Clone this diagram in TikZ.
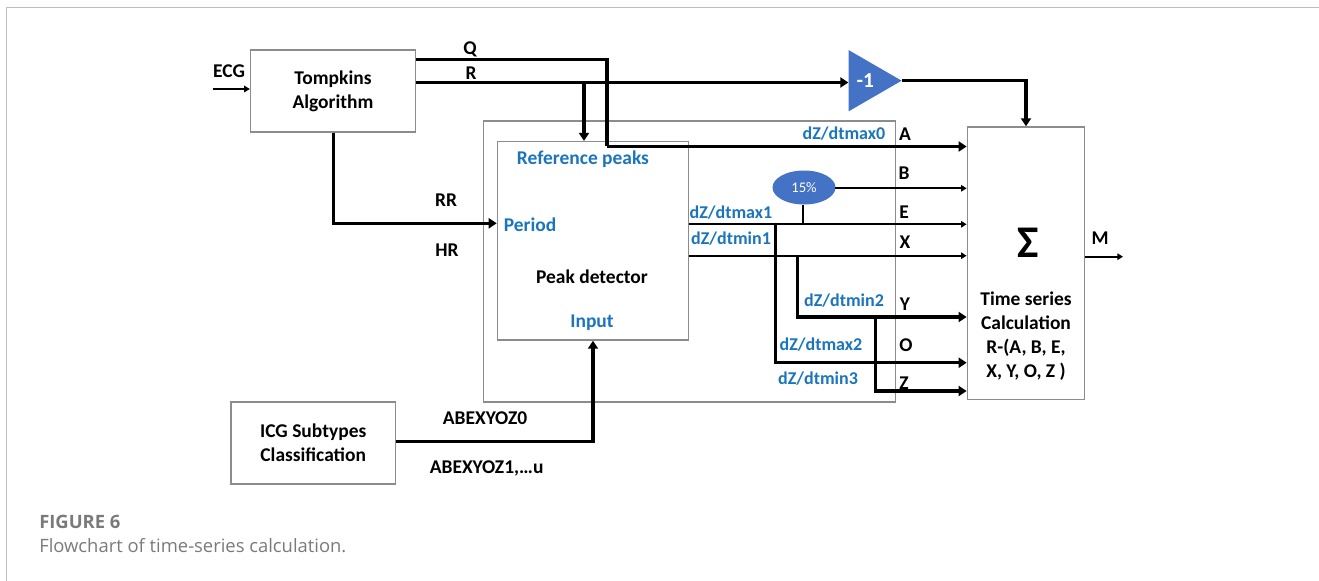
\documentclass[tikz,border=0pt]{standalone}
\usepackage{fontspec}
\setmainfont{Carlito}
\newfontfamily\capfont{Open Sans}
\usetikzlibrary{arrows.meta,shapes.geometric}
\definecolor{labelblue}{HTML}{1B75BC}
\definecolor{gainblue}{HTML}{4472C4}
\definecolor{boxgray}{HTML}{8C8C8C}
\definecolor{capgray}{HTML}{7A7A7A}
\def\px{0.75pt}
\tikzset{
  blockbox/.style={draw=boxgray, line width=1pt, minimum width=#1, inner sep=0pt, align=center, font=\bfseries\fontsize{14.6}{18}\selectfont},
  sig/.style={font=\bfseries\fontsize{14.6}{16}\selectfont, inner sep=0pt},
  bluesig/.style={sig, text=labelblue},
  slopesig/.style={bluesig, font=\bfseries\fontsize{13.5}{15}\selectfont},
  bigwire/.style={line width=2.3pt, -{Triangle[length=6pt,width=7.5pt]}},
  bigline/.style={line width=2.3pt},
  smallwire/.style={line width=1.4pt, -{Triangle[length=4.2pt,width=4.8pt]}},
  smallline/.style={line width=1.4pt},
}
\begin{document}
\begin{tikzpicture}[x=0.75pt, y=-0.75pt, line join=miter]

	% Page size and frame
	\useasboundingbox (0,0) rectangle (1319,581);
	\draw[gray!50, line width=0.9pt] (6.5,581) -- (6.5,7.5) -- (1319,7.5);

	% Blocks
	\node[blockbox=165*\px, minimum height=82*\px] (tompkins) at (333,91) {Tompkins\\Algorithm};
	\node[blockbox=412*\px, minimum height=281*\px] (outer) at (689.7,261.5) {};
	\node[blockbox=191*\px, minimum height=198.5*\px] (detector) at (592.9,240.8) {};
	\node[blockbox=164.5*\px, minimum height=82*\px] (icg) at (313.2,443) {ICG Subtypes\\Classification};
	\node[blockbox=117*\px, minimum height=272.5*\px] (sumbox) at (1025.8,263.2) {};

	% Gain and percentage
	\node[isosceles triangle, isosceles triangle stretches, fill=gainblue, inner sep=0pt,
		minimum width=61.3*\px, minimum height=53*\px, anchor=apex, text=white,
		font=\bfseries\fontsize{16}{18}\selectfont] (gain) at (902.3,80.7) {-1};
	\node[ellipse, fill=gainblue, inner sep=0pt, minimum width=63*\px, minimum height=34*\px,
		text=white, font=\fontsize{11}{12}\selectfont] (pct) at (804,187.5) {15\%};

	% Levels and corners of the wires
	\coordinate (ecgin) at (212.7,89);
	\coordinate (Qturn) at (607,59.3);
	\coordinate (Qdown) at (607,146.5);
	\coordinate (Rtap) at (584,82.5);
	\coordinate (RRturn) at (333.3,223.3);
	\coordinate (inturn) at (593,441.7);
	\coordinate (gainturn) at (1026,80.7);
	\coordinate (Blevel) at (835,188.3);
	\coordinate (Elevel) at (775.7,224.3);
	\coordinate (Xlevel) at (797.3,255.7);
	\coordinate (Oturn) at (775.7,362.7);
	\coordinate (Yturn) at (797.3,317);
	\coordinate (Ytap) at (875.7,317);
	\coordinate (Zturn) at (875.7,391);
	\coordinate (stem) at (802.7,224.3);
	\coordinate (Mout) at (1123,256.7);

	% Wires into and around the detector
	\draw[smallwire] (ecgin) -- (tompkins.west |- ecgin);
	\draw[bigline] (tompkins.east |- Qturn) -- (Qturn) -- (Qdown);
	\draw[bigwire] (Qdown) -- (sumbox.west |- Qdown);
	\draw[bigwire] (tompkins.east |- Rtap) -- (gain.west |- Rtap);
	\draw[bigwire] (Rtap) -- (detector.north -| Rtap);
	\draw[bigwire] (tompkins.south -| RRturn) -- (RRturn) -- (detector.west |- RRturn);
	\draw[bigwire] (icg.east |- inturn) -- (inturn) -- (detector.south -| inturn);
	\draw[bigwire] (gain.apex) -- (gainturn) -- (sumbox.north -| gainturn);

	% Outputs to the sum block
	\draw[smallwire] (Blevel) -- (sumbox.west |- Blevel);
	\draw[smallline] (pct.south -| stem) -- (stem);
	\draw[smallwire] (detector.east |- Elevel) -- (sumbox.west |- Elevel);
	\draw[smallwire] (detector.east |- Xlevel) -- (sumbox.west |- Xlevel);
	\draw[bigwire] (Elevel) -- (Oturn) -- (sumbox.west |- Oturn);
	\draw[bigwire] (Xlevel) -- (Yturn) -- (sumbox.west |- Yturn);
	\draw[bigwire] (Ytap) -- (Zturn) -- (sumbox.west |- Zturn);
	\draw[smallwire] (sumbox.east |- Mout) -- (Mout);

	% Black labels
	\node[sig] (ecglabel) at (229,70.7) {ECG};
	\node[sig] (qlabel) at (470,49) {Q};
	\node[sig] (rlabel) at (471,73) {R};
	\node[sig] (rrlabel) at (446,200) {RR};
	\node[sig] (hrlabel) at (447,250) {HR};
	\node[sig] (peaklabel) at (592,277) {Peak detector};
	\node[sig] (alabel) at (905,134) {A};
	\node[sig] (blabel) at (904,173) {B};
	\node[sig] (elabel) at (904,212) {E};
	\node[sig] (xlabel) at (905,242) {X};
	\node[sig] (ylabel) at (905,304) {Y};
	\node[sig] (olabel) at (906,345) {O};
	\node[sig] (zlabel) at (904,383) {Z};
	\node[sig] (mlabel) at (1100,238) {M};
	\node[sig] (abe0) at (485,418) {ABEXYOZ0};
	\node[sig] (abe1) at (486.6,468) {ABEXYOZ1,…u};
	\node[sig, font=\bfseries\fontsize{34}{36}\selectfont] (sigma) at (1028,243) {Σ};
	\node[sig, align=center, font=\bfseries\fontsize{14.6}{18}\selectfont] (calc) at (1026,336)
		{Time series\\Calculation\\R-(A, B, E,\\X, Y, O, Z )};

	% Blue labels
	\node[bluesig] (refpeaks) at (583,159) {Reference peaks};
	\node[bluesig] (period) at (530,225) {Period};
	\node[bluesig] (input) at (592,323) {Input};
	\node[slopesig] (max0) at (844,134) {dZ/dtmax0};
	\node[slopesig] (max1) at (731,213) {dZ/dtmax1};
	\node[slopesig] (min1) at (731,239) {dZ/dtmin1};
	\node[slopesig] (min2) at (844,301) {dZ/dtmin2};
	\node[slopesig] (max2) at (821,345) {dZ/dtmax2};
	\node[slopesig] (min3) at (818,379) {dZ/dtmin3};

	% Caption
	\node[anchor=west, inner sep=0pt, text=capgray, font=\capfont\fontsize{13.8}{16}\selectfont\bfseries] (figno) at (39,521.7) {FIGURE 6};
	\node[anchor=west, inner sep=0pt, text=capgray, font=\capfont\fontsize{13.8}{16}\selectfont] (figcap) at (39,545.7) {Flowchart of time-series calculation.};

\end{tikzpicture}
\end{document}
